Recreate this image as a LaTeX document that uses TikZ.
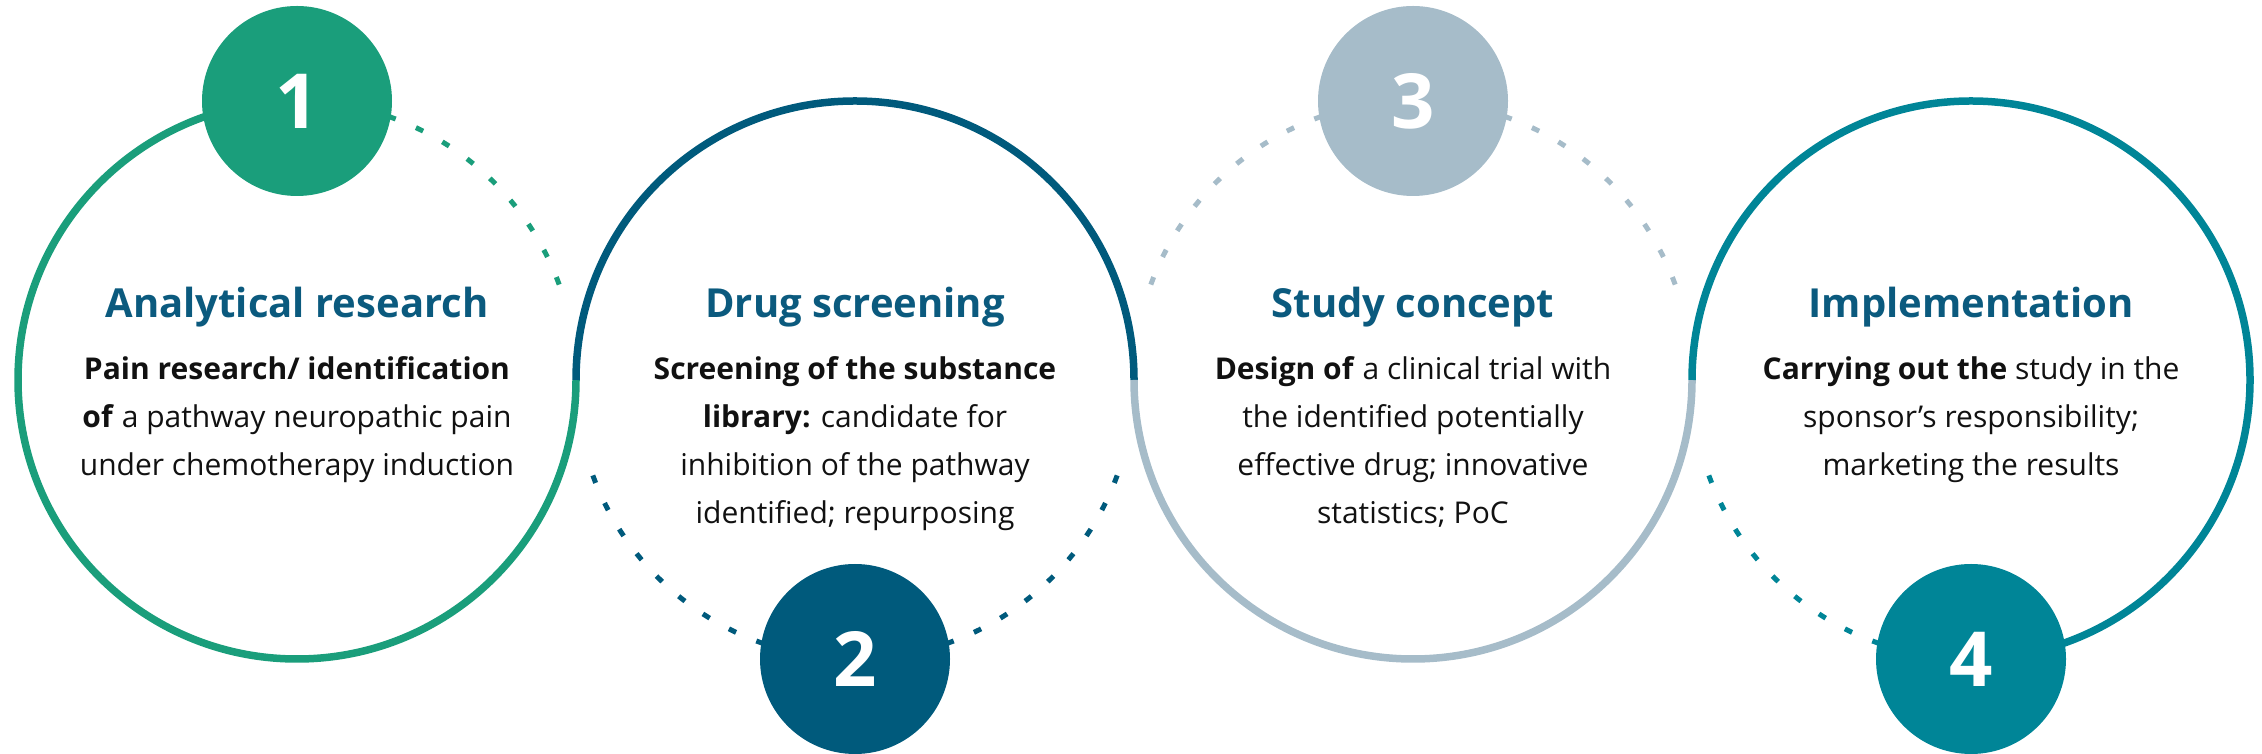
\documentclass[tikz,border=0pt]{standalone}
\usepackage{fontspec}
\setmainfont{Open Sans}
\definecolor{cgreen}{HTML}{1A9E7B}
\definecolor{cdblue}{HTML}{005A7C}
\definecolor{cgrey}{HTML}{A6BCC9}
\definecolor{cteal}{HTML}{008597}
\definecolor{ctitle}{HTML}{0B5A7E}
\definecolor{cbody}{HTML}{111111}
\begin{document}
\begin{tikzpicture}[x=1pt,y=1pt,
  ring/.style={line width=7.5pt},
  dots/.style={line width=5pt, dash pattern=on 8pt off 22pt},
  numdisc/.style={circle, minimum size=190pt, inner sep=0pt, text=white,
    font=\fontsize{76}{76}\selectfont\bfseries},
  ttl/.style={anchor=base, text=ctitle, inner sep=0pt,
    font=\fontsize{40}{48}\selectfont\bfseries},
  body/.style={anchor=base, text=cbody, inner sep=0pt,
    font=\fontsize{30}{40}\selectfont}]
\useasboundingbox (0,0) rectangle (2262,754);
\coordinate (C1) at (297,374);
\coordinate (C2) at (855,374);
\coordinate (C3) at (1413,374);
\coordinate (C4) at (1971,374);
% solid arcs
\draw[ring,cgreen] ([shift={(90:279pt)}]C1) arc[start angle=90,end angle=360,radius=279pt];
\draw[ring,cdblue] ([shift={(0:279pt)}]C2) arc[start angle=0,end angle=180,radius=279pt];
\draw[ring,cgrey] ([shift={(180:279pt)}]C3) arc[start angle=180,end angle=360,radius=279pt];
\draw[ring,cteal] ([shift={(-90:279pt)}]C4) arc[start angle=-90,end angle=180,radius=279pt];
% dotted arcs
\draw[dots,cgreen] ([shift={(20:279pt)}]C1) arc[start angle=20,end angle=90,radius=279pt];
\draw[dots,cdblue] ([shift={(-160:279pt)}]C2) arc[start angle=-160,end angle=-90,radius=279pt];
\draw[dots,cdblue] ([shift={(-20:279pt)}]C2) arc[start angle=-20,end angle=-90,radius=279pt];
\draw[dots,cgrey] ([shift={(160:279pt)}]C3) arc[start angle=160,end angle=90,radius=279pt];
\draw[dots,cgrey] ([shift={(20:279pt)}]C3) arc[start angle=20,end angle=90,radius=279pt];
\draw[dots,cteal] ([shift={(200:279pt)}]C4) arc[start angle=200,end angle=270,radius=279pt];
% number discs
\node[numdisc,fill=cgreen] (n1) at (297,653) {1};
\node[numdisc,fill=cdblue] (n2) at (855,95) {2};
\node[numdisc,fill=cgrey] (n3) at (1413,653) {3};
\node[numdisc,fill=cteal] (n4) at (1971,95) {4};
% circle 1 text
\node[ttl] (t1) at (297,436) {Analytical research};
\node[body] (a1) at (297,374) {\textbf{Pain research/ identification}};
\node[body] (a2) at (297,326) {\textbf{of} a pathway neuropathic pain};
\node[body] (a3) at (297,278) {under chemotherapy induction};
% circle 2 text
\node[ttl] (t2) at (855,436) {Drug screening};
\node[body] (b1) at (855,374) {\textbf{Screening of the substance}};
\node[body] (b2) at (855,326) {\textbf{library:} candidate for};
\node[body] (b3) at (855,278) {inhibition of the pathway};
\node[body] (b4) at (855,230) {identified; repurposing};
% circle 3 text
\node[ttl] (t3) at (1413,436) {Study concept};
\node[body] (c1) at (1413,374) {\textbf{Design of} a clinical trial with};
\node[body] (c2) at (1413,326) {the identified potentially};
\node[body] (c3) at (1413,278) {effective drug; innovative};
\node[body] (c4) at (1413,230) {statistics; PoC};
% circle 4 text
\node[ttl] (t4) at (1971,436) {Implementation};
\node[body] (d1) at (1971,374) {\textbf{Carrying out the} study in the};
\node[body] (d2) at (1971,326) {sponsor's responsibility;};
\node[body] (d3) at (1971,278) {marketing the results};
\end{tikzpicture}
\end{document}
